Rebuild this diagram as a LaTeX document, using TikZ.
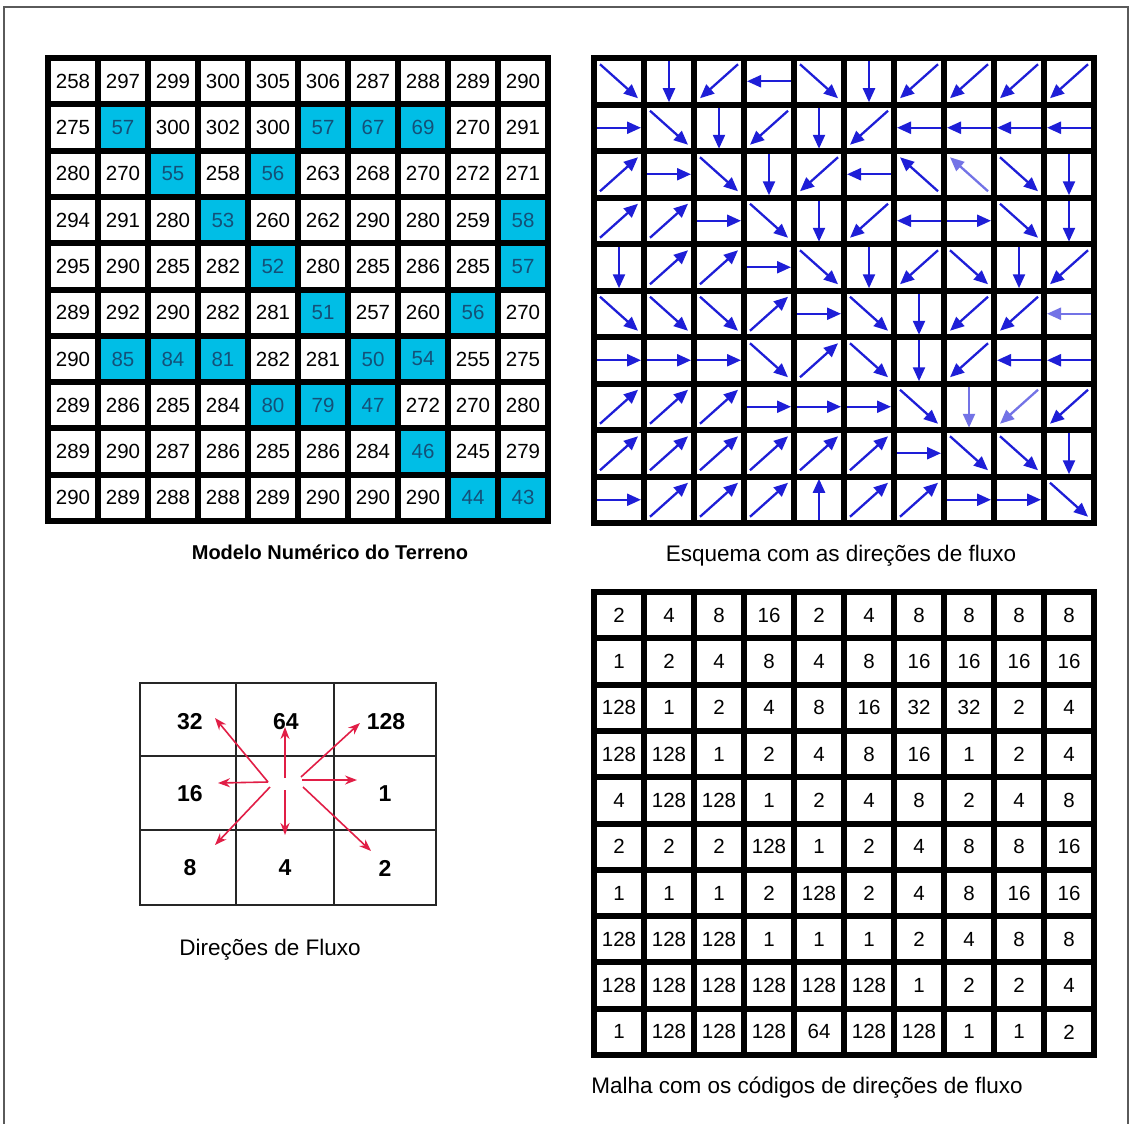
\documentclass[tikz,border=0pt]{standalone}
\usepackage{fontspec}
\setmainfont{Liberation Sans}
\usetikzlibrary{arrows.meta}
\definecolor{cyancell}{RGB}{0,190,230}
\definecolor{cyantext}{RGB}{20,80,120}
\definecolor{arrowblue}{RGB}{30,30,215}
\definecolor{arrowlight}{RGB}{115,115,230}
\definecolor{redarrow}{RGB}{225,30,70}
\definecolor{framegray}{RGB}{90,90,90}
\newcommand\fdir[1]{%
  \ifnum#1=1 \def\fx{22}\def\fy{0}\fi
  \ifnum#1=2 \def\fx{19}\def\fy{17}\fi
  \ifnum#1=4 \def\fx{0}\def\fy{21}\fi
  \ifnum#1=8 \def\fx{-19}\def\fy{17}\fi
  \ifnum#1=16 \def\fx{-22}\def\fy{0}\fi
  \ifnum#1=32 \def\fx{-19}\def\fy{-17}\fi
  \ifnum#1=64 \def\fx{0}\def\fy{-21}\fi
  \ifnum#1=128 \def\fx{19}\def\fy{-17}\fi}
\def\codes{{2,4,8,16,2,4,8,8,8,8},{1,2,4,8,4,8,16,16,16,16},{128,1,2,4,8,16,32,32,2,4},{128,128,1,2,4,8,16,1,2,4},{4,128,128,1,2,4,8,2,4,8},{2,2,2,128,1,2,4,8,8,16},{1,1,1,2,128,2,4,8,16,16},{128,128,128,1,1,1,2,4,8,8},{128,128,128,128,128,128,1,2,2,4},{1,128,128,128,64,128,128,1,1,2}}
\def\dem{{258,297,299,300,305,306,287,288,289,290},{275,57,300,302,300,57,67,69,270,291},{280,270,55,258,56,263,268,270,272,271},{294,291,280,53,260,262,290,280,259,58},{295,290,285,282,52,280,285,286,285,57},{289,292,290,282,281,51,257,260,56,270},{290,85,84,81,282,281,50,54,255,275},{289,286,285,284,80,79,47,272,270,280},{289,290,287,286,285,286,284,46,245,279},{290,289,288,288,289,290,290,290,44,43}}
\begin{document}
\begin{tikzpicture}[x=1pt,y=-1pt,
  numtext/.style={font=\fontsize{20.5}{24}\selectfont, inner sep=0pt},
  gridline/.style={line width=6pt, black, line cap=rect},
  caption/.style={font=\fontsize{22.5}{27}\selectfont, inner sep=0pt, anchor=base},
  flow/.style={line width=2.3pt, -{Triangle[length=14pt,width=12pt]}},
  dirarrow/.style={redarrow, line width=1.6pt, -{Stealth[length=12pt,width=9pt]}},
  dirnum/.style={font=\fontsize{23}{27}\selectfont\bfseries, inner sep=0pt},
  thingrid/.style={line width=1.3pt, black!85}]
\fill[white] (0,0) rectangle (1133,1124);
\useasboundingbox (0,0) rectangle (1133,1124);
\draw[framegray, line width=1.5pt] (4,1124) -- (4,7) -- (1128,7) -- (1128,1124);
% ---- grid 1: elevation model
\foreach \rowvals [count=\r from 0] in \dem {
  \foreach \v [count=\c from 0] in \rowvals {
    \pgfmathsetmacro\cx{48+50*\c+25}
    \pgfmathsetmacro\cy{58+46.3*\r+23.15}
    \ifnum\v<100
      \fill[cyancell] ({\cx-25},{\cy-23.15}) rectangle +(50,46.3);
      \node[numtext, text=cyantext] (dem-\r-\c) at (\cx,\cy) {\v};
    \else
      \node[numtext] (dem-\r-\c) at (\cx,\cy) {\v};
    \fi
  }
}
\foreach \i in {0,...,10} {
  \draw[gridline] ({48+50*\i},58) -- ({48+50*\i},521);
  \draw[gridline] (48,{58+46.3*\i}) -- (548,{58+46.3*\i});
}
% ---- grid 2: flow arrows
\foreach \rowvals [count=\r from 0] in \codes {
  \foreach \v [count=\c from 0] in \rowvals {
    \pgfmathsetmacro\cx{594+50*\c+25}
    \pgfmathsetmacro\cy{58+46.5*\r+23.25}
    \pgfmathtruncatemacro\idx{\r*10+\c}
    \fdir{\v}
    \def\acol{arrowblue}
    \ifnum\idx=27 \def\acol{arrowlight}\fi
    \ifnum\idx=59 \def\acol{arrowlight}\fi
    \ifnum\idx=77 \def\acol{arrowlight}\fi
    \ifnum\idx=78 \def\acol{arrowlight}\fi
    \draw[flow, color=\acol] ({\cx-(\fx)},{\cy-(\fy)}) -- ({\cx+(\fx)},{\cy+(\fy)});
  }
}
\foreach \i in {0,...,10} {
  \draw[gridline] ({594+50*\i},58) -- ({594+50*\i},523);
  \draw[gridline] (594,{58+46.5*\i}) -- (1094,{58+46.5*\i});
}
% ---- grid 3: flow codes
\foreach \rowvals [count=\r from 0] in \codes {
  \foreach \v [count=\c from 0] in \rowvals {
    \pgfmathsetmacro\cx{594+50*\c+25}
    \pgfmathsetmacro\cy{592+46.3*\r+23.15}
    \node[numtext] (code-\r-\c) at (\cx,\cy) {\v};
  }
}
\foreach \i in {0,...,10} {
  \draw[gridline] ({594+50*\i},592) -- ({594+50*\i},1055);
  \draw[gridline] (594,{592+46.3*\i}) -- (1094,{592+46.3*\i});
}
% ---- direction legend
\draw[thingrid] (140,683) rectangle (436,905);
\draw[thingrid] (236,683) -- (236,905);
\draw[thingrid] (334,683) -- (334,905);
\draw[thingrid] (140,756) -- (436,756);
\draw[thingrid] (140,830) -- (436,830);
\node[dirnum] (d32) at (190,722) {32};
\node[dirnum] (d64) at (286,722) {64};
\node[dirnum] (d128) at (386,722) {128};
\node[dirnum] (d16) at (190,794) {16};
\node[dirnum] (d1) at (385,794) {1};
\node[dirnum] (d8) at (190,868) {8};
\node[dirnum] (d4) at (285,868) {4};
\node[dirnum] (d2) at (385,868) {2};
\draw[dirarrow] (268,782) -- (215,718);
\draw[dirarrow] (285,778) -- (285,727);
\draw[dirarrow] (301,777) -- (360,723);
\draw[dirarrow] (268,782) -- (218,783);
\draw[dirarrow] (302,780) -- (357,780);
\draw[dirarrow] (270,787) -- (215,845);
\draw[dirarrow] (285,790) -- (285,835);
\draw[dirarrow] (303,787) -- (371,851);
% ---- captions
\node[caption, font=\fontsize{20}{24}\selectfont\bfseries] (cap1) at (330,559) {Modelo Numérico do Terreno};
\node[caption] (cap2) at (841,561) {Esquema com as direções de fluxo};
\node[caption] (cap3) at (270,955) {Direções de Fluxo};
\node[caption] (cap4) at (807,1093) {Malha com os códigos de direções de fluxo};
\end{tikzpicture}
\end{document}
